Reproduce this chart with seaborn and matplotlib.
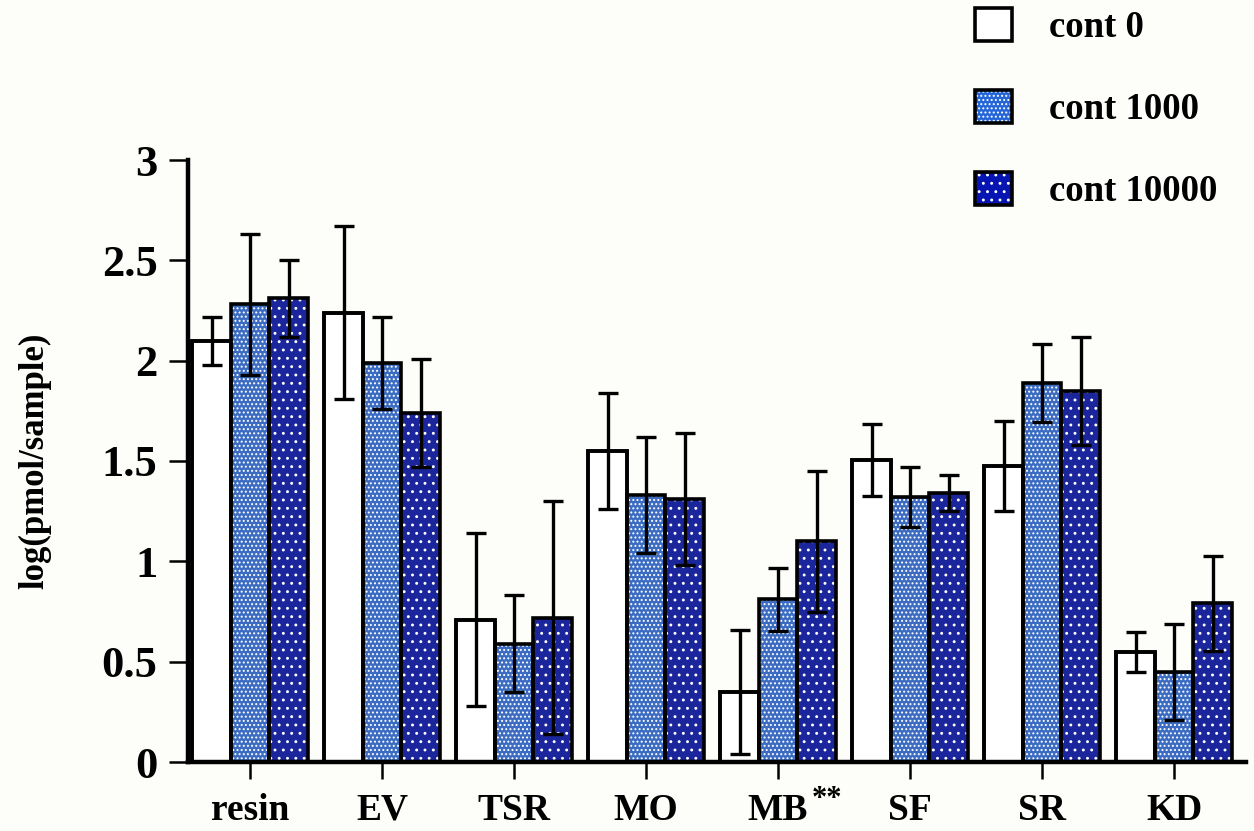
import matplotlib
matplotlib.use("Agg")
import matplotlib.pyplot as plt
from matplotlib.patches import Patch, Rectangle
from matplotlib.legend_handler import HandlerTuple
import seaborn as sns
import pandas as pd

# ---- data: log(pmol/sample), mean and error per site and dose ----
categories = ["resin", "EV", "TSR", "MO", "MB", "SF", "SR", "KD"]
groups = ["cont 0", "cont 1000", "cont 10000"]

cont0 = [2.10, 2.24, 0.71, 1.55, 0.35, 1.505, 1.475, 0.55]
cont0_err = [0.12, 0.43, 0.43, 0.29, 0.31, 0.18, 0.225, 0.10]
cont1000 = [2.28, 1.99, 0.59, 1.33, 0.81, 1.32, 1.89, 0.45]
cont1000_err = [0.35, 0.23, 0.24, 0.29, 0.155, 0.15, 0.195, 0.24]
cont10000 = [2.31, 1.74, 0.72, 1.31, 1.10, 1.34, 1.85, 0.79]
cont10000_err = [0.19, 0.27, 0.58, 0.33, 0.35, 0.09, 0.27, 0.235]

yticks = [0, 0.5, 1, 1.5, 2, 2.5, 3]
ytick_labels = ["0", "0.5", "1", "1.5", "2", "2.5", "3"]

means = {"cont 0": cont0, "cont 1000": cont1000, "cont 10000": cont10000}
errs = {"cont 0": cont0_err, "cont 1000": cont1000_err, "cont 10000": cont10000_err}

df = pd.DataFrame(
    [(c, g, means[g][i]) for g in groups for i, c in enumerate(categories)],
    columns=["site", "group", "value"],
)

# ---- styling ----
sns.set_theme(style="white")
plt.rcParams["font.family"] = ["Liberation Serif", "DejaVu Serif"]
plt.rcParams["font.weight"] = "bold"
plt.rcParams["hatch.linewidth"] = 0.9
for key in ("text.color", "axes.labelcolor", "xtick.color", "ytick.color"):
    plt.rcParams[key] = "black"

face = {"cont 0": "#ffffff", "cont 1000": "#2466d8", "cont 10000": "#0614b2"}
hatch = {"cont 0": None, "cont 1000": "....", "cont 10000": ".."}
bar_lw = 2.6

fig = plt.figure(figsize=(12.54, 8.31), dpi=100)
fig.patch.set_facecolor("#fdfdfa")
ax = fig.add_axes([188 / 1254, 69 / 831, (1246 - 188) / 1254, 602 / 831])
ax.set_facecolor("none")

sns.barplot(
    data=df, x="site", y="value", hue="group", hue_order=groups,
    order=categories, palette=face, width=0.875, errorbar=None,
    edgecolor="black", linewidth=bar_lw, legend=False, ax=ax,
)

# hatch fill with white dots, then a crisp black outline on top
for g, cont in zip(groups, ax.containers):
    for i, bar in enumerate(cont):
        x0, w, h = bar.get_x(), bar.get_width(), bar.get_height()
        if hatch[g]:
            bar.set_edgecolor("white")
            bar.set_linewidth(0)
            bar.set_hatch(hatch[g])
        ax.add_patch(Rectangle((x0, 0), w, h, fill=False, edgecolor="black",
                               linewidth=bar_lw, zorder=3))
        ax.errorbar(x0 + w / 2, means[g][i], yerr=errs[g][i], fmt="none",
                    ecolor="black", elinewidth=2.4, capsize=7, capthick=2.4,
                    zorder=4)

# ---- axes ----
ax.set_xlim(-0.47, 7.545)
ax.set_ylim(0, 3)
ax.set_yticks(yticks)
ax.set_yticklabels(ytick_labels)
ax.set_xlabel("")
ax.set_ylabel("log(pmol/sample)", fontsize=25, fontweight="bold", labelpad=36)
ax.tick_params(axis="y", direction="out", length=14, width=1.8, pad=8,
               labelsize=32, left=True, color="black")
ax.tick_params(axis="x", direction="out", length=12, width=1.8, pad=10,
               labelsize=27, bottom=True, color="black")
for lab in ax.get_xticklabels() + ax.get_yticklabels():
    lab.set_fontweight("bold")

for side in ("top", "right"):
    ax.spines[side].set_visible(False)
for side in ("left", "bottom"):
    ax.spines[side].set_color("black")
    ax.spines[side].set_linewidth(3.2)
ax.spines["left"].set_bounds(0, 3)

# significance marker next to MB
ax.annotate("**", xy=(categories.index("MB"), 0), xycoords=("data", "axes fraction"),
            xytext=(35, -27), textcoords="offset points", ha="center", va="center",
            fontsize=22, fontweight="bold")

# ---- legend ----
handles = []
for g in groups:
    fill = Patch(facecolor=face[g], edgecolor="white" if hatch[g] else face[g],
                 hatch=hatch[g], linewidth=0)
    outline = Patch(facecolor="none", edgecolor="black", linewidth=2.6)
    handles.append((fill, outline))
fig.legend(handles, groups, handler_map={tuple: HandlerTuple(ndivide=1, pad=0)},
           loc="upper left", bbox_to_anchor=(975 / 1254, 1 - 8 / 831),
           frameon=False, prop={"weight": "bold", "size": 26.5},
           handlelength=1.0, handleheight=1.0, handletextpad=1.0,
           labelspacing=1.22, borderpad=0, borderaxespad=0)

fig.savefig("out.png", dpi=100, facecolor=fig.get_facecolor())
